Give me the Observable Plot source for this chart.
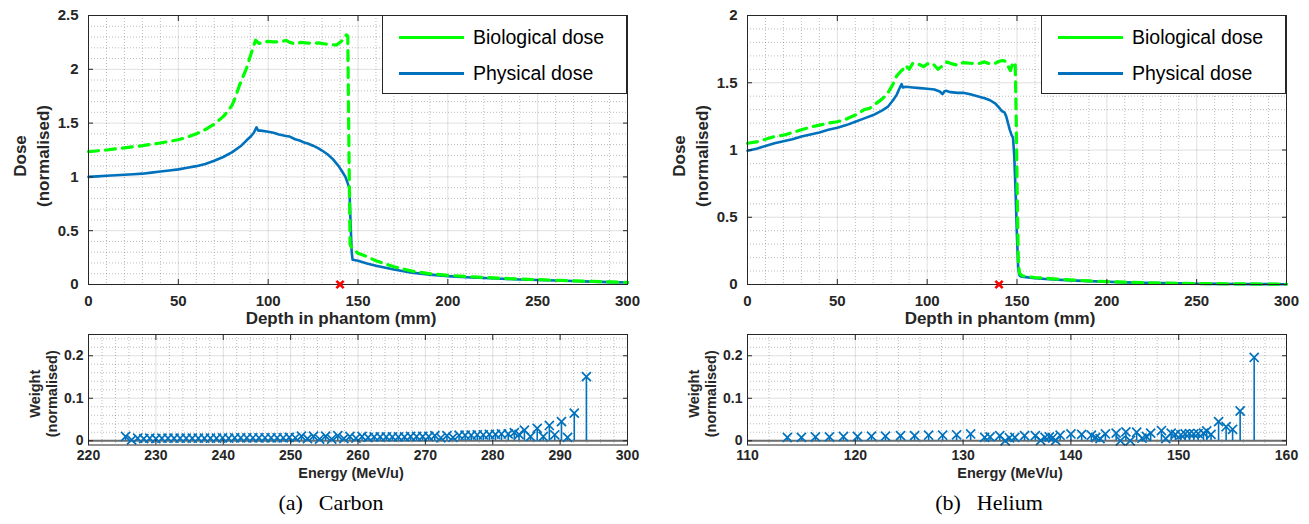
<!DOCTYPE html>
<html>
<head>
<meta charset="utf-8">
<script src="https://cdn.jsdelivr.net/npm/d3@7"></script>
<script src="https://cdn.jsdelivr.net/npm/@observablehq/plot@0.6"></script>
<style>
  html, body { margin: 0; padding: 0; background: #fff; }
  #root { position: relative; width: 1309px; height: 524px; overflow: hidden; background: #fff; font-family: "Liberation Sans", Arial, sans-serif; }
  .panel { position: absolute; }
  .legend { position: absolute; box-sizing: border-box; width: 245px; height: 79px; border: 1px solid #262626; background: #fff; }
  .legend .sw { position: absolute; left: 16px; width: 65px; height: 3px; }
  .legend .lb { position: absolute; left: 90px; font-size: 19.5px; line-height: 24px; color: #000; white-space: nowrap; }
  .caption { position: absolute; top: 491px; font-family: "Liberation Serif", "Times New Roman", serif; font-size: 22px; line-height: 24px; color: #000; white-space: nowrap; transform: translateX(-50%); }
  .caption .tag { margin-right: 16px; }
</style>
</head>
<body>
<div id="root"></div>
<script>
// ---------------- Data ----------------
// Carbon: depth-dose curves
const carbonPhysDepth = [0,5,10,15,20,25,30,35,40,45,50,55,60,65,70,75,80,85,88,90,92,93.5,94.5,96,100,103,106,110,112,115,118,120,122,125,128,130,133,136,139,141,143,144.5,145.2,145.8,146.5,147,150,155,160,170,180,190,200,210,220,230,240,250,260,270,280,290,300];
const carbonPhysDose  = [1.00,1.005,1.01,1.015,1.02,1.025,1.03,1.04,1.05,1.06,1.07,1.085,1.10,1.12,1.15,1.185,1.23,1.29,1.34,1.37,1.41,1.46,1.43,1.43,1.42,1.41,1.395,1.38,1.375,1.35,1.335,1.32,1.31,1.29,1.265,1.245,1.21,1.165,1.105,1.055,1.00,0.93,0.90,0.60,0.30,0.23,0.22,0.195,0.175,0.14,0.11,0.092,0.078,0.068,0.06,0.053,0.047,0.042,0.037,0.032,0.027,0.022,0.018];
const carbonBioDepth  = [0,10,20,30,40,45,50,55,60,65,70,75,78,80,82,84,86,88,90,92,93,95,97,100,103,105,108,110,112,115,118,121,125,128,132,135,138,140,142,143.5,144.3,145,145.6,147,150,155,160,170,180,190,200,210,220,230,240,250,260,270,280,290,300];
const carbonBioDose   = [1.235,1.25,1.27,1.29,1.315,1.33,1.345,1.37,1.40,1.44,1.49,1.56,1.62,1.67,1.75,1.85,1.93,2.01,2.12,2.22,2.27,2.24,2.25,2.26,2.255,2.255,2.26,2.27,2.25,2.235,2.25,2.245,2.24,2.245,2.235,2.23,2.225,2.25,2.28,2.32,2.31,1.20,0.37,0.33,0.29,0.26,0.22,0.165,0.125,0.10,0.085,0.075,0.066,0.058,0.051,0.045,0.04,0.034,0.029,0.024,0.02];

// Helium: depth-dose curves
const heliumPhysDepth = [0,5,10,15,20,25,30,35,40,45,50,55,60,65,70,75,78,81,83,85,85.8,86.5,88,92,96,100,104,107,108.5,109.5,110.5,113,117,120,124,128,132,135,138,140,141.5,143,144,145,146,147,147.8,148.5,149.3,150,150.7,151.3,152,155,160,170,180,190,200,210,220,230,240,250,260,270,280,290,300];
const heliumPhysDose  = [0.995,1.01,1.03,1.05,1.065,1.08,1.10,1.115,1.13,1.15,1.165,1.185,1.21,1.235,1.26,1.295,1.32,1.37,1.41,1.47,1.49,1.465,1.47,1.465,1.46,1.455,1.45,1.435,1.415,1.435,1.44,1.43,1.425,1.425,1.415,1.40,1.385,1.37,1.345,1.315,1.29,1.28,1.25,1.20,1.15,1.11,1.09,0.95,0.65,0.35,0.12,0.07,0.06,0.055,0.047,0.037,0.031,0.025,0.02,0.016,0.013,0.01,0.008,0.006,0.005,0.004,0.003,0.003,0.002];
const heliumBioDepth  = [0,5,10,15,20,25,30,35,40,45,50,55,60,65,68,70,75,78,81,83,85,86.5,88,90,92,95,98,100,103,106,108,111,114,117,120,124,128,132,135,138,140,142,143.5,145,146.3,147.5,148.3,149,149.6,150.2,150.8,151.5,153,155,160,170,180,190,200,210,220,230,240,250,260,270,280,290,300];
const heliumBioDose   = [1.05,1.06,1.08,1.10,1.11,1.13,1.15,1.17,1.185,1.20,1.21,1.23,1.26,1.30,1.31,1.33,1.38,1.42,1.49,1.55,1.58,1.60,1.63,1.60,1.645,1.64,1.62,1.64,1.645,1.60,1.62,1.655,1.64,1.63,1.65,1.645,1.64,1.655,1.64,1.645,1.66,1.665,1.66,1.625,1.59,1.64,1.655,1.645,1.20,0.60,0.15,0.08,0.065,0.06,0.052,0.042,0.034,0.027,0.022,0.018,0.014,0.011,0.009,0.007,0.006,0.005,0.004,0.003,0.003];

// Target marker on the depth axis (mm)
const targetDepth = [140];

// Carbon: energy weights
const carbonEnergy = [225.5,226.4,227.3,228.2,229.1,230.0,230.9,231.8,232.7,233.6,234.5,235.4,236.3,237.2,238.1,239.0,239.9,240.8,241.7,242.6,243.5,244.4,245.3,246.2,247.1,248.0,248.9,249.8,250.7,251.6,252.5,253.4,254.3,255.2,256.1,257.0,257.9,258.8,259.7,260.6,261.5,262.4,263.3,264.2,265.1,266.0,266.9,267.8,268.7,269.6,270.5,271.4,272.3,273.2,274.1,275.0,275.9,276.8,277.7,278.6,279.5,280.4,281.3,282.3,283.2,283.9,284.7,285.6,286.6,287.5,288.4,289.2,290.2,291.1,292.1,293.9];
const carbonWeight = [0.010,0.002,0.006,0.005,0.006,0.005,0.006,0.006,0.006,0.006,0.006,0.006,0.006,0.006,0.006,0.006,0.007,0.006,0.007,0.007,0.007,0.007,0.007,0.007,0.007,0.007,0.007,0.008,0.007,0.011,0.005,0.011,0.004,0.011,0.004,0.012,0.005,0.010,0.006,0.010,0.008,0.009,0.009,0.009,0.009,0.009,0.009,0.010,0.010,0.010,0.010,0.012,0.007,0.012,0.008,0.013,0.013,0.013,0.014,0.014,0.015,0.015,0.016,0.016,0.019,0.015,0.025,0.010,0.029,0.010,0.036,0.014,0.045,0.008,0.065,0.151];

// Helium: energy weights
const heliumEnergy = [113.7,115.0,116.3,117.6,118.9,120.2,121.5,122.8,124.2,125.5,126.8,128.1,129.4,130.7,132.0,132.5,133.4,133.9,134.3,134.8,135.7,136.7,137.2,137.6,138.0,138.3,138.6,139.0,140.0,141.0,141.9,142.3,142.7,143.2,144.2,144.6,145.1,145.5,146.1,146.6,147.0,147.4,148.4,148.8,149.3,149.7,150.2,150.6,151.0,151.4,151.8,152.3,152.6,153.0,153.7,154.4,155.0,155.7,157.0];
const heliumWeight = [0.008,0.008,0.009,0.009,0.010,0.010,0.011,0.011,0.012,0.012,0.013,0.013,0.014,0.016,0.008,0.009,0.012,0.000,0.007,0.008,0.012,0.012,0.001,0.008,0.009,0.007,0.001,0.013,0.016,0.015,0.013,0.008,0.005,0.016,0.018,0.000,0.021,0.000,0.020,0.006,0.010,0.018,0.024,0.005,0.018,0.015,0.014,0.016,0.017,0.016,0.017,0.018,0.023,0.015,0.045,0.033,0.027,0.070,0.196];

// Ticks and labels
const depthTicks = [0,50,100,150,200,250,300];
const depthTickLabels = ["0","50","100","150","200","250","300"];
const carbonDoseTicks = [0,0.5,1,1.5,2,2.5];
const carbonDoseTickLabels = ["0","0.5","1","1.5","2","2.5"];
const heliumDoseTicks = [0,0.5,1,1.5,2];
const heliumDoseTickLabels = ["0","0.5","1","1.5","2"];
const carbonEnergyTicks = [220,230,240,250,260,270,280,290,300];
const carbonEnergyTickLabels = ["220","230","240","250","260","270","280","290","300"];
const heliumEnergyTicks = [110,120,130,140,150,160];
const heliumEnergyTickLabels = ["110","120","130","140","150","160"];
const weightTicks = [0,0.1,0.2];
const weightTickLabels = ["0","0.1","0.2"];

const seriesNames = ["Biological dose", "Physical dose"];
const seriesColors = ["#00ff00", "#0072bd"];
const captions = [["(a)", "Carbon"], ["(b)", "Helium"]];

// ---------------- Helpers ----------------
const INK = "#262626";
const minorTicks = (lo, hi, step, majors) =>
  d3.range(Math.round((hi - lo) / step) + 1).map(i => +(lo + i * step).toFixed(6))
    .filter(v => !majors.some(m => Math.abs(m - v) < 1e-9));
const zip = (xs, ys) => xs.map((x, i) => ({x, y: ys[i]}));
const fmt = (ticks, labels) => d => labels[ticks.findIndex(t => Math.abs(t - d) < 1e-9)];

function gridMarks(xMaj, xMin, yMaj, yMin) {
  return [
    Plot.gridX(xMin, {stroke: INK, strokeOpacity: 0.3, strokeDasharray: "1,2"}),
    Plot.gridY(yMin, {stroke: INK, strokeOpacity: 0.3, strokeDasharray: "1,2"}),
    Plot.gridX(xMaj, {stroke: INK, strokeOpacity: 0.14}),
    Plot.gridY(yMaj, {stroke: INK, strokeOpacity: 0.14})
  ];
}

function axisMarks(xT, xL, yT, yL, fs, xPad, yPad) {
  return [
    Plot.axisX(xT, {anchor: "bottom", tickSize: -5, tickPadding: xPad, tickFormat: fmt(xT, xL), label: null, fontSize: fs, fontWeight: "bold", color: INK}),
    Plot.axisX(xT, {anchor: "top", tickSize: -5, tickFormat: () => "", label: null, color: INK}),
    Plot.axisY(yT, {anchor: "left", tickSize: -5, tickPadding: yPad, tickFormat: fmt(yT, yL), label: null, fontSize: fs, fontWeight: "bold", color: INK}),
    Plot.axisY(yT, {anchor: "right", tickSize: -5, tickFormat: () => "", label: null, color: INK})
  ];
}

function dosePlot({width, marginLeft, yMax, yTicks, yLabels, phys, bio}) {
  return Plot.plot({
    width, height: 330,
    marginLeft, marginRight: 23, marginTop: 15, marginBottom: 46,
    style: {fontFamily: "'Liberation Sans', Arial, sans-serif", background: "transparent", overflow: "visible"},
    x: {domain: [0, 300]},
    y: {domain: [0, yMax]},
    marks: [
      ...gridMarks(depthTicks, minorTicks(0, 300, 10, depthTicks), yTicks, minorTicks(0, yMax, 0.1, yTicks)),
      Plot.line(phys, {x: "x", y: "y", stroke: seriesColors[1], strokeWidth: 2.6}),
      Plot.line(bio, {x: "x", y: "y", stroke: seriesColors[0], strokeWidth: 3.2, strokeDasharray: "10,7"}),
      Plot.frame({stroke: INK}),
      ...axisMarks(depthTicks, depthTickLabels, yTicks, yLabels, 15, 15.5, 15),
      Plot.dot(targetDepth, {x: d => d, y: () => 0, symbol: "times", r: 3.4, stroke: "#ff0000", strokeWidth: 2.6}),
      Plot.text(["Depth in phantom (mm)"], {frameAnchor: "bottom", lineAnchor: "middle", textAnchor: "middle", dx: -17, dy: 34, fontSize: 17, fontWeight: "bold", fill: INK}),
      Plot.text(["Dose\n(normalised)"], {frameAnchor: "left", lineAnchor: "middle", textAnchor: "middle", rotate: -90, dx: -58.5, dy: 6, lineHeight: 1.35, fontSize: 17, fontWeight: "bold", fill: INK})
    ]
  });
}

function weightPlot({width, marginLeft, xDomain, xTicks, xLabels, xMinorStep, data}) {
  return Plot.plot({
    width, height: 150,
    marginLeft, marginRight: 23, marginTop: 14, marginBottom: 25.5,
    style: {fontFamily: "'Liberation Sans', Arial, sans-serif", background: "transparent", overflow: "visible"},
    x: {domain: xDomain},
    y: {domain: [-0.01, 0.25]},
    marks: [
      ...gridMarks(xTicks, minorTicks(xDomain[0], xDomain[1], xMinorStep, xTicks), weightTicks, minorTicks(0, 0.24, 0.02, weightTicks)),
      Plot.ruleY([0], {stroke: "#6e6e6e", strokeWidth: 2.2}),
      Plot.ruleX(data, {x: "x", y1: () => 0, y2: "y", stroke: seriesColors[1], strokeWidth: 1.6}),
      Plot.dot(data, {x: "x", y: "y", symbol: "times", r: 4.2, stroke: seriesColors[1], strokeWidth: 1.7}),
      Plot.frame({stroke: INK}),
      ...axisMarks(xTicks, xLabels, weightTicks, weightTickLabels, 14, 10.5, 10),
      Plot.text(["Energy (MeV/u)"], {frameAnchor: "bottom", lineAnchor: "middle", textAnchor: "middle", dx: -7, dy: 28, fontSize: 14.5, fontWeight: "bold", fill: INK}),
      Plot.text(["Weight\n(normalised)"], {frameAnchor: "left", lineAnchor: "middle", textAnchor: "middle", rotate: -90, dx: -45.5, dy: 4, lineHeight: 1.17, fontSize: 14.5, fontWeight: "bold", fill: INK})
    ]
  });
}

function place(node, left, top) {
  const d = document.createElement("div");
  d.className = "panel";
  d.style.left = left + "px";
  d.style.top = top + "px";
  d.appendChild(node);
  document.getElementById("root").appendChild(d);
}

function legend(left, top) {
  const box = document.createElement("div");
  box.className = "legend";
  box.style.left = left + "px";
  box.style.top = top + "px";
  const rowsY = [21, 57];
  seriesNames.forEach((name, i) => {
    const sw = document.createElement("div");
    sw.className = "sw";
    sw.style.top = (rowsY[i] - 1.5) + "px";
    sw.style.background = seriesColors[i];
    const lb = document.createElement("div");
    lb.className = "lb";
    lb.style.top = (rowsY[i] - 12.5) + "px";
    lb.textContent = name;
    box.appendChild(sw);
    box.appendChild(lb);
  });
  document.getElementById("root").appendChild(box);
}

function caption(center, parts) {
  const c = document.createElement("div");
  c.className = "caption";
  c.style.left = center + "px";
  const a = document.createElement("span"); a.className = "tag"; a.textContent = parts[0];
  const b = document.createElement("span"); b.textContent = parts[1];
  c.appendChild(a); c.appendChild(b);
  document.getElementById("root").appendChild(c);
}

// ---------------- Draw ----------------
place(dosePlot({width: 650, marginLeft: 88, yMax: 2.5, yTicks: carbonDoseTicks, yLabels: carbonDoseTickLabels,
  phys: zip(carbonPhysDepth, carbonPhysDose), bio: zip(carbonBioDepth, carbonBioDose)}), 0, 0);
place(dosePlot({width: 654, marginLeft: 92, yMax: 2, yTicks: heliumDoseTicks, yLabels: heliumDoseTickLabels,
  phys: zip(heliumPhysDepth, heliumPhysDose), bio: zip(heliumBioDepth, heliumBioDose)}), 655, 0);
place(weightPlot({width: 650, marginLeft: 88, xDomain: [220, 300], xTicks: carbonEnergyTicks, xLabels: carbonEnergyTickLabels, xMinorStep: 2,
  data: zip(carbonEnergy, carbonWeight)}), 0, 320);
place(weightPlot({width: 654, marginLeft: 92, xDomain: [110, 160], xTicks: heliumEnergyTicks, xLabels: heliumEnergyTickLabels, xMinorStep: 2,
  data: zip(heliumEnergy, heliumWeight)}), 655, 320);
legend(382, 15);
legend(1041, 15);
caption(331, captions[0]);
caption(989, captions[1]);
</script>
</body>
</html>
